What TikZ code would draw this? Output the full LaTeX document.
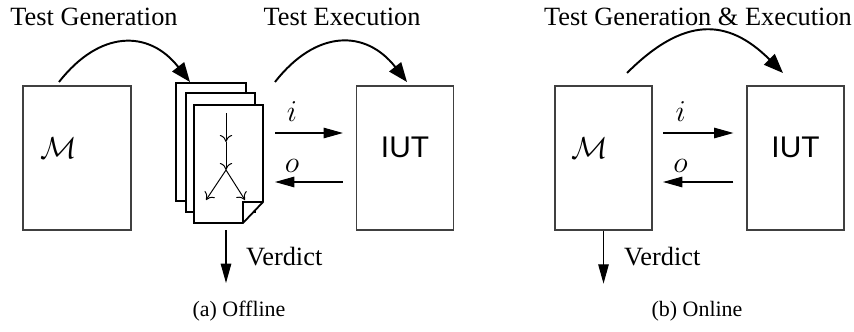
\documentclass[tikz,border=0pt]{standalone}
\usepackage{fontspec}
\setmainfont{Liberation Serif}
\setsansfont{Liberation Sans}
\usetikzlibrary{arrows.meta,positioning}
\tikzset{
  box/.style={draw=black!75, line width=0.7pt, inner sep=0pt, minimum height=2.88cm},
  page/.style={draw, line width=1pt, fill=white},
  hop/.style={line width=1.1pt, -{Stealth[length=11pt,width=8.5pt,inset=0pt]}, bend left=52, looseness=1.3},
  io/.style={line width=0.6pt, -{Stealth[length=11pt,width=6pt,inset=0pt]}},
  flow/.style={line width=0.55pt, -{To[length=4pt,width=7pt]}},
  title/.style={font=\fontsize{15}{18}\selectfont},
  capt/.style={font=\fontsize{12.5}{15}\selectfont},
  model/.style={font=\fontsize{19}{22}\selectfont},
  sut/.style={font=\sffamily\fontsize{17}{20}\selectfont},
  sym/.style={font=\fontsize{17}{19}\selectfont},
}
\begin{document}
\begin{tikzpicture}[x=0.02cm, y=-0.02cm]
    \useasboundingbox (0,0) rectangle (854,331);

    % (a) offline
    \node[box, minimum width=2.16cm] (M1) at (77,158) {};
    \node[model, anchor=west] (m1) at ([xshift=0.24cm, yshift=0.19cm] M1.west) {$\mathcal{M}$};
    \node[box, minimum width=1.94cm] (IUT1) at (405,158) {};
    \node[sut] (iut1) at ([yshift=0.22cm] IUT1.center) {IUT};

    % stack of tests
    \draw[page] (176,83) rectangle (246,201);
    \draw[page] (186,93) rectangle (255,212);
    \draw[page] (194,105) -- (263,105) -- (263,202) -- (243,223) -- (194,223) -- cycle;
    \draw[line width=0.8pt] (243,223) -- (243,202) -- (263,202);
    \coordinate (t0) at (226,113);
    \coordinate (t1) at (226,142);
    \coordinate (t2) at (226,170);
    \coordinate (t3) at (206,200);
    \coordinate (t4) at (245,200);
    \draw[flow] (t0) -- (t1);
    \draw[flow] (t1) -- (t2);
    \draw[flow] (t2) -- (t3);
    \draw[flow] (t2) -- (t4);

    \coordinate (gen0) at (59,82);
    \coordinate (gen1) at (190,82);
    \coordinate (exe0) at (275,82);
    \coordinate (exe1) at (407,82);
    \draw[hop] (gen0) to (gen1);
    \draw[hop] (exe0) to (exe1);
    \node[title] (lgen) at (94,17) {Test Generation};
    \node[title] (lexe) at (342,17) {Test Execution};

    \coordinate (in1) at (275,133);
    \coordinate (out1) at (275,182);
    \draw[io] (in1) -- ([xshift=-0.26cm] in1 -| IUT1.west) node[pos=0.25, above=3pt, sym] {$i$};
    \draw[io] ([xshift=-0.26cm] out1 -| IUT1.west) -- (out1) node[pos=0.75, above=2pt, sym] {$o$};

    \coordinate (v0) at (226,230);
    \coordinate (v1) at (226,283);
    \draw[io] (v0) -- (v1);
    \node[title, anchor=base west] (verd1) at (240,265) {Verdict};

    \node[capt] (capa) at (239,311) {(a) Offline};

    % (b) online
    \node[box, minimum width=1.94cm] (M2) at (603.5,158) {};
    \node[model, anchor=west] (m2) at ([xshift=0.22cm, yshift=0.19cm] M2.west) {$\mathcal{M}$};
    \node[box, minimum width=1.94cm] (IUT2) at (795.5,158) {};
    \node[sut] (iut2) at ([yshift=0.22cm] IUT2.center) {IUT};

    \coordinate (ge0) at (627,73);
    \coordinate (ge1) at (783,73);
    \draw[hop, bend left=45] (ge0) to (ge1);
    \node[title] (lge) at (698,17) {Test Generation \& Execution};

    \coordinate (in2) at (663,133);
    \coordinate (out2) at (663,182);
    \draw[io] (in2) -- ([xshift=-0.26cm] in2 -| IUT2.west) node[pos=0.25, above=3pt, sym] {$i$};
    \draw[io] ([xshift=-0.26cm] out2 -| IUT2.west) -- (out2) node[pos=0.75, above=2pt, sym] {$o$};

    \draw[io] (M2.south) -- ++(0,53) coordinate (v2);
    \node[title, anchor=base west] (verd2) at (618,265) {Verdict};

    \node[capt] (capb) at (697,311) {(b) Online};
\end{tikzpicture}
\end{document}
